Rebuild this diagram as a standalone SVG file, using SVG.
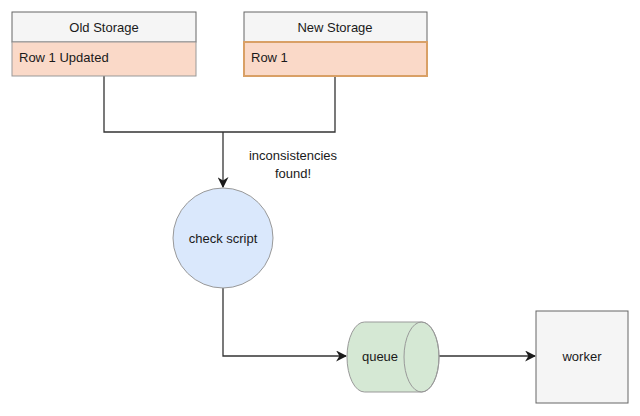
<svg xmlns="http://www.w3.org/2000/svg" width="640" height="416" viewBox="0 0 640 416">
<defs>
<style>
text{font-family:"Liberation Sans",Arial,sans-serif;font-size:13px;fill:#1a1a1a}
.hdr{fill:#f5f5f5;stroke:#666666;stroke-width:1}
.row{fill:#fad9c8;stroke:#999999;stroke-width:1}
.rowo{fill:#fad9c8;stroke:#d9a066;stroke-width:2}
.edge{fill:none;stroke:#333333;stroke-width:1.3}
</style>
<marker id="arr" viewBox="0 0 10 10" refX="9" refY="5" markerWidth="11" markerHeight="11" markerUnits="userSpaceOnUse" orient="auto">
<path d="M0,0 L10,5 L0,10 L3,5 Z" fill="#1a1a1a"/>
</marker>
</defs>
<rect width="640" height="416" fill="#ffffff"/>
<g id="connectors">
<path class="edge" d="M104,76 V132 H335 V76"/>
<path class="edge" d="M223,132 V187" marker-end="url(#arr)"/>
<path class="edge" d="M223,288 V356 H346" marker-end="url(#arr)"/>
<path class="edge" d="M439,356 H535" marker-end="url(#arr)"/>
</g>
<g id="label-inconsistencies">
<text x="293" y="160" text-anchor="middle">inconsistencies</text>
<text x="293" y="178" text-anchor="middle">found!</text>
</g>
<g id="old-storage">
<rect class="hdr" x="12" y="12" width="184" height="30"/>
<text x="104" y="32" text-anchor="middle">Old Storage</text>
<rect class="row" x="12" y="42" width="184" height="34"/>
<text x="19" y="62">Row 1 Updated</text>
</g>
<g id="new-storage">
<rect class="hdr" x="244" y="12" width="183" height="30"/>
<text x="335" y="32" text-anchor="middle">New Storage</text>
<rect class="rowo" x="244" y="42" width="183" height="34"/>
<text x="251" y="62">Row 1</text>
</g>
<g id="check-script">
<circle cx="223" cy="238" r="50" fill="#dae8fc" stroke="#999999" stroke-width="1"/>
<text x="223" y="243" text-anchor="middle">check script</text>
</g>
<g id="queue">
<path d="M364.5,322 H421.5 A17.5,35 0 0 1 421.5,392 H364.5 A17.5,35 0 0 1 364.5,322 Z" fill="#d5e8d4" stroke="#999999" stroke-width="1"/>
<ellipse cx="421.5" cy="357" rx="17.5" ry="35" fill="none" stroke="#999999" stroke-width="1"/>
<text x="380" y="361" text-anchor="middle">queue</text>
</g>
<g id="worker">
<rect x="536" y="311" width="92" height="92" fill="#f5f5f5" stroke="#666666" stroke-width="1"/>
<text x="582" y="361" text-anchor="middle">worker</text>
</g>
</svg>
